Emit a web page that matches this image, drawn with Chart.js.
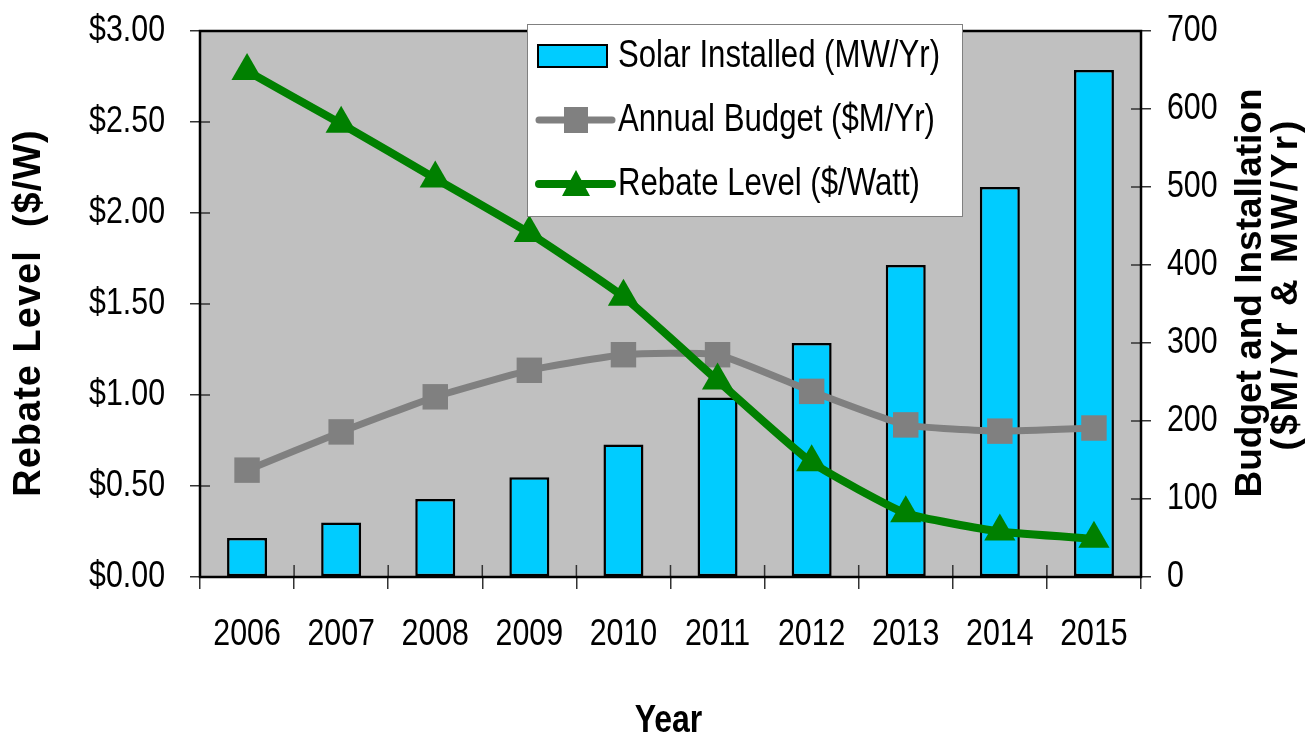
<!DOCTYPE html>
<html>
<head>
<meta charset="utf-8">
<script src="https://cdn.jsdelivr.net/npm/chart.js@4"></script>
<style>
  html, body { margin: 0; padding: 0; background: #fff; }
  #wrap { width: 1309px; height: 739px; position: relative; }
</style>
</head>
<body>
<div id="wrap"><canvas id="myChart" width="1309" height="739"></canvas></div>
<script>
const years = ['2006', '2007', '2008', '2009', '2010', '2011', '2012', '2013', '2014', '2015'];
const solarInstalled = [50, 70, 100, 128, 170, 230, 300, 400, 500, 650];
const annualBudget = [137, 186, 231, 265, 285, 285, 238, 195, 187, 191];
const rebateLevel = [2.78, 2.49, 2.19, 1.89, 1.54, 1.08, 0.63, 0.35, 0.25, 0.21];

const sans = "'Liberation Sans', Arial, sans-serif";
const SQUEEZE = 0.82; // no Arial Narrow here, so squeeze Arial-metric text

// text in a condensed look
function narrowText(ctx, text, x, y, align, font) {
  ctx.save();
  ctx.font = font;
  ctx.textAlign = align;
  ctx.textBaseline = 'middle';
  ctx.fillStyle = '#000';
  ctx.translate(x, y);
  ctx.scale(SQUEEZE, 1);
  ctx.fillText(text, 0, 0);
  ctx.restore();
}

// gray plot area with a black frame, tick marks poke inside too
const plotFrame = {
  id: 'plotFrame',
  beforeDraw(chart) {
    const { ctx, chartArea: a } = chart;
    ctx.save();
    ctx.fillStyle = '#c0c0c0';
    ctx.fillRect(a.left, a.top, a.right - a.left, a.bottom - a.top);
    ctx.restore();
  },
  beforeDatasetsDraw(chart) {
    const { ctx, chartArea: a, scales } = chart;
    ctx.save();
    ctx.strokeStyle = '#333';
    ctx.lineWidth = 1.5;
    ctx.beginPath();
    scales.y.ticks.forEach((t, i) => {
      const y = scales.y.getPixelForTick(i);
      ctx.moveTo(a.left, y); ctx.lineTo(a.left + 10, y);
    });
    scales.y1.ticks.forEach((t, i) => {
      const y = scales.y1.getPixelForTick(i);
      ctx.moveTo(a.right - 10, y); ctx.lineTo(a.right, y);
    });
    const half = (scales.x.getPixelForTick(1) - scales.x.getPixelForTick(0)) / 2;
    scales.x.ticks.forEach((t, i) => {
      const x = scales.x.getPixelForTick(i) - half;
      ctx.moveTo(x, a.bottom - 12); ctx.lineTo(x, a.bottom);
    });
    ctx.stroke();
    ctx.strokeStyle = '#000';
    ctx.lineWidth = 2.5;
    ctx.strokeRect(a.left, a.top, a.right - a.left, a.bottom - a.top);
    ctx.restore();
  },
};

// tick labels, placed from the scales
const tickLabels = {
  id: 'tickLabels',
  afterDraw(chart) {
    const { ctx, scales, chartArea: a } = chart;
    const f = `37px ${sans}`;
    scales.x.ticks.forEach((t, i) => {
      narrowText(ctx, years[i], scales.x.getPixelForTick(i), 635, 'center', f);
    });
    scales.y.ticks.forEach((t, i) => {
      narrowText(ctx, '$' + t.value.toFixed(2), a.left - 35, scales.y.getPixelForTick(i), 'right', f);
    });
    scales.y1.ticks.forEach((t, i) => {
      narrowText(ctx, String(t.value), a.right + 26, scales.y1.getPixelForTick(i), 'left', f);
    });
  },
};

// axis titles (right one reads bottom to top, like the left one)
const axisTitles = {
  id: 'axisTitles',
  afterDraw(chart) {
    const { ctx, chartArea: a } = chart;
    ctx.save();
    ctx.fillStyle = '#000';
    ctx.textAlign = 'center';
    ctx.textBaseline = 'middle';
    [
      [30, 313, 'Rebate Level  ($/W)', 38, '1px'],
      [1251, 293, 'Budget and Installation', 37, '0px'],
      [1287, 284, '($M/Yr & MW/Yr)', 37, '3px'],
    ].forEach(([x, y, t, size, sp]) => {
      ctx.save();
      ctx.font = `bold ${size}px ${sans}`;
      ctx.letterSpacing = sp;
      ctx.translate(x, y);
      ctx.rotate(-Math.PI / 2);
      ctx.fillText(t, 0, 0);
      ctx.restore();
    });
    ctx.restore();
    narrowText(ctx, 'Year', (a.left + a.right) / 2 - 2, 721, 'center', `bold 39px ${sans}`);
  },
};

// legend box floating over the plot
const floatLegend = {
  id: 'floatLegend',
  afterDraw(chart) {
    const { ctx, chartArea: a } = chart;
    const x0 = a.left + 327;
    const y0 = a.top - 7;
    ctx.save();
    ctx.fillStyle = '#fff';
    ctx.fillRect(x0, y0, 435, 192);
    ctx.strokeStyle = '#808080';
    ctx.lineWidth = 1;
    ctx.strokeRect(x0 + 0.5, y0 + 0.5, 435, 192);

    const rows = [y0 + 32, y0 + 96, y0 + 160];
    const ds = chart.data.datasets;
    ctx.fillStyle = ds[0].backgroundColor;
    ctx.strokeStyle = '#000';
    ctx.lineWidth = 2;
    ctx.fillRect(x0 + 11, rows[0] - 11, 69, 22);
    ctx.strokeRect(x0 + 11, rows[0] - 11, 69, 22);
    [1, 2].forEach((i) => {
      const y = rows[i];
      ctx.strokeStyle = ds[i].borderColor;
      ctx.lineWidth = ds[i].borderWidth;
      ctx.lineCap = 'round';
      ctx.beginPath();
      ctx.moveTo(x0 + 12, y);
      ctx.lineTo(x0 + 85, y);
      ctx.stroke();
      ctx.fillStyle = ds[i].pointBackgroundColor;
      if (i === 1) {
        ctx.fillRect(x0 + 37, y - 13, 24, 26);
      } else {
        ctx.beginPath();
        ctx.moveTo(x0 + 49, y - 14);
        ctx.lineTo(x0 + 63, y + 12);
        ctx.lineTo(x0 + 35, y + 12);
        ctx.closePath();
        ctx.fill();
      }
    });
    ctx.restore();
    ds.forEach((d, i) => narrowText(ctx, d.label, x0 + 91, rows[i] + 1, 'left', `38px ${sans}`));
  },
};

new Chart(document.getElementById('myChart'), {
  type: 'bar',
  data: {
    labels: years,
    datasets: [
      {
        label: 'Solar Installed (MW/Yr)',
        data: solarInstalled,
        yAxisID: 'y1',
        backgroundColor: '#00ccff',
        borderColor: '#000',
        borderWidth: 2.5,
        borderSkipped: false,
        barPercentage: 0.85,
        categoryPercentage: 0.5,
        order: 3,
      },
      {
        type: 'line',
        label: 'Annual Budget ($M/Yr)',
        data: annualBudget,
        yAxisID: 'y1',
        borderColor: '#808080',
        borderWidth: 7,
        tension: 0.15,
        pointStyle: 'rect',
        pointRadius: 18,
        pointBackgroundColor: '#808080',
        pointBorderWidth: 0,
        order: 2,
      },
      {
        type: 'line',
        label: 'Rebate Level ($/Watt)',
        data: rebateLevel,
        yAxisID: 'y',
        borderColor: '#008000',
        borderWidth: 8,
        tension: 0.15,
        pointStyle: 'triangle',
        pointRadius: 18,
        pointBackgroundColor: '#008000',
        pointBorderWidth: 0,
        order: 1,
      },
    ],
  },
  options: {
    responsive: false,
    animation: false,
    devicePixelRatio: 1,
    layout: { padding: { top: 31 } },
    plugins: {
      legend: { display: false },
      tooltip: { enabled: false },
    },
    scales: {
      x: {
        grid: { offset: true, drawOnChartArea: false, tickLength: 12, color: '#333', lineWidth: 1.5 },
        border: { display: false },
        ticks: { display: false },
        afterFit(s) { s.height = 162; },
      },
      y: {
        position: 'left',
        min: 0,
        max: 3,
        grid: { drawOnChartArea: false, tickLength: 10, color: '#333', lineWidth: 1.5 },
        border: { display: false },
        ticks: { display: false, stepSize: 0.5 },
        afterFit(s) { s.width = 200; },
      },
      y1: {
        position: 'right',
        min: 0,
        max: 700,
        grid: { drawOnChartArea: false, tickLength: 10, color: '#333', lineWidth: 1.5 },
        border: { display: false },
        ticks: { display: false, stepSize: 100 },
        afterFit(s) { s.width = 168; },
      },
    },
  },
  plugins: [plotFrame, tickLabels, axisTitles, floatLegend],
});
</script>
</body>
</html>
